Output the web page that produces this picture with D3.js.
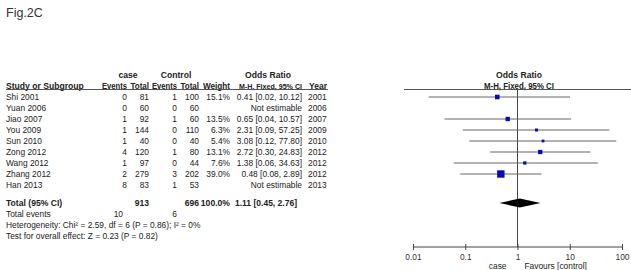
<!DOCTYPE html>
<html>
<head>
<meta charset="utf-8">
<script src="https://cdn.jsdelivr.net/npm/d3@7"></script>
<style>
  body { margin: 0; background: #fff; }
  svg text { font-family: "Liberation Sans", Arial, sans-serif; fill: #222; }
</style>
</head>
<body>
<div id="chart"></div>
<script>
// study table
const studies = ["Shi 2001", "Yuan 2006", "Jiao 2007", "You 2009", "Sun 2010", "Zong 2012", "Wang 2012", "Zhang 2012", "Han 2013"];
const caseEvents = [0, 0, 1, 1, 1, 4, 1, 2, 8];
const caseTotal = [81, 60, 92, 144, 40, 120, 97, 279, 83];
const ctrlEvents = [1, 0, 1, 0, 0, 1, 0, 3, 1];
const ctrlTotal = [100, 60, 60, 110, 40, 80, 44, 202, 53];
const weights = [15.1, null, 13.5, 6.3, 5.4, 13.1, 7.6, 39.0, null];
const oddsRatio = [0.41, null, 0.65, 2.31, 3.08, 2.72, 1.38, 0.48, null];
const ciLow = [0.02, null, 0.04, 0.09, 0.12, 0.30, 0.06, 0.08, null];
const ciHigh = [10.12, null, 10.57, 57.25, 77.80, 24.83, 34.63, 2.89, null];
const years = [2001, 2006, 2007, 2009, 2010, 2012, 2012, 2012, 2013];

// pooled result
const totalCase = 913, totalCtrl = 696;
const totalEventsCase = 10, totalEventsCtrl = 6;
const pooled = [0.45, 1.11, 2.76]; // low, OR, high

const tickValues = [0.01, 0.1, 1, 10, 100];
const tickLabels = ["0.01", "0.1", "1", "10", "100"];

const width = 631, height = 270;
const fs = 8.4;   // body text
const hfs = 8.6;  // bold headers

const svg = d3.select("#chart").append("svg")
  .attr("width", width)
  .attr("height", height);

// title
svg.append("text").attr("x", 6).attr("y", 17)
  .attr("font-size", 12.5).style("fill", "#333").text("Fig.2C");

// row position
const y = d3.scaleLinear().domain([0, 8]).range([97, 185]);
const yTotal = 203;

// forest x scale
const x = d3.scaleLog().domain([0.01, 100]).range([413, 622]);

// column right edges
const col = { ce: 127, ct: 149, oe: 177, ot: 199, w: 230, or: 302, yr: 308 };

function txt(xp, yp, s, anchor, bold, len) {
  const t = svg.append("text")
    .attr("x", xp).attr("y", yp + 3)
    .attr("font-size", bold ? hfs : fs)
    .attr("text-anchor", anchor || "start")
    .text(s);
  if (bold) t.attr("font-weight", "bold");
  if (len) t.attr("textLength", len).attr("lengthAdjust", "spacingAndGlyphs");
  return t;
}

// group headers
txt(128, 75, "case", "middle", true);
txt(176, 75, "Control", "middle", true);
txt(268, 75, "Odds Ratio", "middle", true);
txt(519, 75, "Odds Ratio", "middle", true);

// column headers (squeezed to fit the narrow columns)
txt(6, 86, "Study or Subgroup", "start", true);
txt(col.ce, 86, "Events", "end", true, 25);
txt(col.ct, 86, "Total", "end", true, 18.5);
txt(col.oe, 86, "Events", "end", true, 25);
txt(col.ot, 86, "Total", "end", true, 18.5);
txt(col.w, 86, "Weight", "end", true, 27);
txt(col.or, 86, "M-H, Fixed, 95% CI", "end", true).attr("font-size", 7.1);
txt(col.yr + 1, 86, "Year", "start", true, 18);
txt(519, 86, "M-H, Fixed, 95% CI", "middle", true, 70);

// header underlines
svg.append("line").attr("x1", 6).attr("x2", 328).attr("y1", 89.5).attr("y2", 89.5)
  .attr("stroke", "#555").attr("stroke-width", 1);
svg.append("line").attr("x1", 404).attr("x2", 631).attr("y1", 89.5).attr("y2", 89.5)
  .attr("stroke", "#555").attr("stroke-width", 1);

// study rows
studies.forEach((s, i) => {
  const yy = y(i);
  txt(6, yy, s);
  txt(col.ce, yy, caseEvents[i], "end");
  txt(col.ct, yy, caseTotal[i], "end");
  txt(col.oe, yy, ctrlEvents[i], "end");
  txt(col.ot, yy, ctrlTotal[i], "end");
  if (weights[i] != null) {
    txt(col.w, yy, weights[i].toFixed(1) + "%", "end");
    txt(col.or, yy, `${oddsRatio[i].toFixed(2)} [${ciLow[i].toFixed(2)}, ${ciHigh[i].toFixed(2)}]`, "end");
  } else {
    txt(col.or, yy, "Not estimable", "end");
  }
  txt(col.yr, yy, years[i]);
});

// totals
txt(6, yTotal, "Total (95% CI)", "start", true);
txt(col.ct, yTotal, totalCase, "end", true);
txt(col.ot, yTotal, totalCtrl, "end", true);
txt(col.w, yTotal, "100.0%", "end", true);
txt(col.or - 5, yTotal, `${pooled[1].toFixed(2)} [${pooled[0].toFixed(2)}, ${pooled[2].toFixed(2)}]`, "end", true, 62);
txt(6, yTotal + 11, "Total events");
txt(col.ce - 4, yTotal + 11, totalEventsCase, "end");
txt(col.oe, yTotal + 11, totalEventsCtrl, "end");
txt(6, yTotal + 22, "Heterogeneity: Chi\u00b2 = 2.59, df = 6 (P = 0.86); I\u00b2 = 0%");
txt(6, yTotal + 33, "Test for overall effect: Z = 0.23 (P = 0.82)");

// forest plot
const axisY = 247;
svg.append("line")
  .attr("x1", x(1)).attr("x2", x(1))
  .attr("y1", 90).attr("y2", axisY)
  .attr("stroke", "#444").attr("stroke-width", 1);

const idx = d3.range(studies.length).filter(i => oddsRatio[i] != null);
const size = d3.scaleSqrt().domain([0, 40]).range([0, 7.5]);
const side = i => Math.max(2.5, size(weights[i]));

svg.selectAll(".ci").data(idx).enter().append("line")
  .attr("class", "ci")
  .attr("x1", i => x(ciLow[i])).attr("x2", i => x(ciHigh[i]))
  .attr("y1", i => y(i)).attr("y2", i => y(i))
  .attr("stroke", "#666").attr("stroke-width", 1);

svg.selectAll(".sq").data(idx).enter().append("rect")
  .attr("class", "sq")
  .attr("x", i => x(oddsRatio[i]) - side(i) / 2)
  .attr("y", i => y(i) - side(i) / 2)
  .attr("width", side)
  .attr("height", side)
  .attr("fill", "#0a0ab4");

// pooled diamond
svg.append("path")
  .attr("d", `M${x(pooled[0])},${yTotal} L${x(pooled[1])},${yTotal - 4.5} L${x(pooled[2])},${yTotal} L${x(pooled[1])},${yTotal + 4.5} Z`)
  .attr("fill", "#000");

// axis
const axis = d3.axisBottom(x)
  .tickValues(tickValues)
  .tickFormat((d, i) => tickLabels[i])
  .tickSize(3);
const ax = svg.append("g").attr("transform", `translate(0,${axisY})`).call(axis);
ax.select(".domain").attr("stroke", "#444").attr("d", `M${x(0.01)},0H${x(100)}`);
ax.selectAll(".tick line").attr("y1", -3).attr("y2", 3).attr("stroke", "#444");
ax.selectAll(".tick text").attr("y", 7).attr("font-size", fs)
  .style("font-family", "Liberation Sans, Arial, sans-serif").style("fill", "#333");

txt(x(1) - 11, 266, "case", "end");
txt(x(1) + 7, 266, "Favours [control]", "start");
</script>
</body>
</html>
